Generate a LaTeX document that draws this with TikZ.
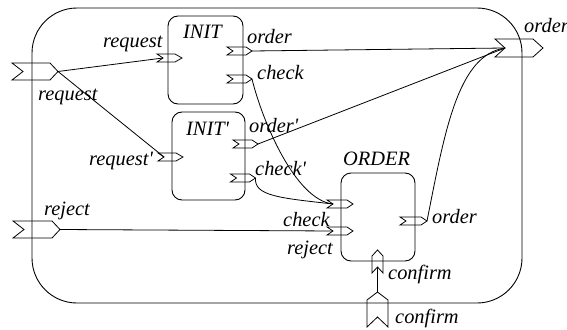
\documentclass[tikz,border=0pt]{standalone}
\usepackage{fontspec}
\setmainfont{Liberation Serif}[Ligatures=TeXOff]
\tikzset{
  % a port: chevron pointing along local +x, with named tip and notch
  pics/port/.style args={#1/#2/#3/#4}{code={
    \draw[portline] (-#1/2,-#2/2) -- (#1/2-#4,-#2/2) -- (#1/2,0) -- (#1/2-#4,#2/2)
      -- (-#1/2,#2/2) -- (-#1/2+#3,0) -- cycle;
    \coordinate (-tip) at (#1/2,0);
    \coordinate (-notch) at (-#1/2+#3,0);
  }},
}
\begin{document}
\begin{tikzpicture}[x=1pt,y=-1pt,
  portline/.style={line width=0.8pt, line join=miter},
  wire/.style={line width=0.8pt},
  comp/.style={draw, line width=0.9pt, rounded corners=10pt, inner sep=0pt},
  lbl/.style={inner sep=0pt, anchor=base west, font=\fontsize{20.4}{24}\selectfont\itshape},
]
\useasboundingbox (0,0) rectangle (567,329);

% system boundary
\draw[line width=0.9pt, rounded corners=45pt] (32,8) rectangle (522,303);

% components
\node[comp, minimum width=75pt, minimum height=88pt] (init)  at (205.5,60)  {};
\node[comp, minimum width=73pt, minimum height=88pt] (initp) at (208.5,156) {};
\node[comp, minimum width=74pt, minimum height=88pt] (order) at (378,217)   {};

% system ports
\pic (reqIn)  at (35,71.5)    {port=46/17/11/8};
\pic (rejIn)  at (36.5,229.5) {port=47/17/11/8};
\pic (ordOut) at (519,48)     {port=48/18/10/10};
\pic[rotate=90] (cfIn) at (377.5,309.5) {port=35/21/10/8};

% component ports
\pic (initReq)  at (169.5,58)  {port=25/8/6/7};
\pic (initOrd)  at (239.5,51)  {port=25/8/6/6};
\pic (initChk)  at (239.5,79)  {port=25/8/6/6};
\pic (initpReq) at (170.5,157) {port=25/8/6/7};
\pic (initpOrd) at (245.5,144) {port=25/8/6/6};
\pic (initpChk) at (243,178)   {port=25/8/6/6};
\pic (orderChk) at (340,204)   {port=26/8/6/6};
\pic (orderRej) at (340,231)   {port=26/8/6/6};
\pic (orderOrd) at (413.5,221) {port=27/8/6/6};
\pic[rotate=90] (orderCf) at (377.5,261.5) {port=23/11/6/6};

% connectors
\draw[wire] (reqIn-tip) -- (initReq-notch);
\draw[wire] (reqIn-tip) -- (initpReq-notch);
\draw[wire] (initOrd-tip) -- (ordOut-notch);
\draw[wire] (initpOrd-tip) -- (ordOut-notch);
\draw[wire] (orderOrd-tip) .. controls (445,130) and (458,55) .. (ordOut-notch);
\draw[wire] (initChk-tip) .. controls (262,120) and (295,200) .. (orderChk-notch);
\draw[wire] (initpChk-tip) .. controls (254,196) and (280,198) .. (orderChk-notch);
\draw[wire] (rejIn-tip) -- (orderRej-notch);
\draw[wire] (cfIn-tip) -- (orderCf-notch);

% names
\node[lbl] (tInit)  at (183,39)  {INIT};
\node[lbl] (tInitp) at (186,135) {INIT'};
\node[lbl] (tOrder) at (343,165) {ORDER};

% port labels
\node[lbl] (lReqA)  at (103,48)  {request};
\node[lbl] (lReqB)  at (38,100)  {request};
\node[lbl] (lOrdA)  at (247,44)  {order};
\node[lbl] (lChkA)  at (257,79)  {check};
\node[lbl] (lReqP)  at (89,165)  {request'};
\node[lbl] (lOrdP)  at (249,132) {order'};
\node[lbl] (lChkP)  at (255,175) {check'};
\node[lbl] (lRej)   at (44,215)  {reject};
\node[lbl] (lChkB)  at (283,226) {check};
\node[lbl] (lRejB)  at (287,254) {reject};
\node[lbl] (lOrdB)  at (432,223) {order};
\node[lbl] (lCfA)   at (388,279) {confirm};
\node[lbl] (lCfB)   at (395,323) {confirm};
\node[lbl] (lOrdC)  at (524,33)  {order};
\end{tikzpicture}
\end{document}
